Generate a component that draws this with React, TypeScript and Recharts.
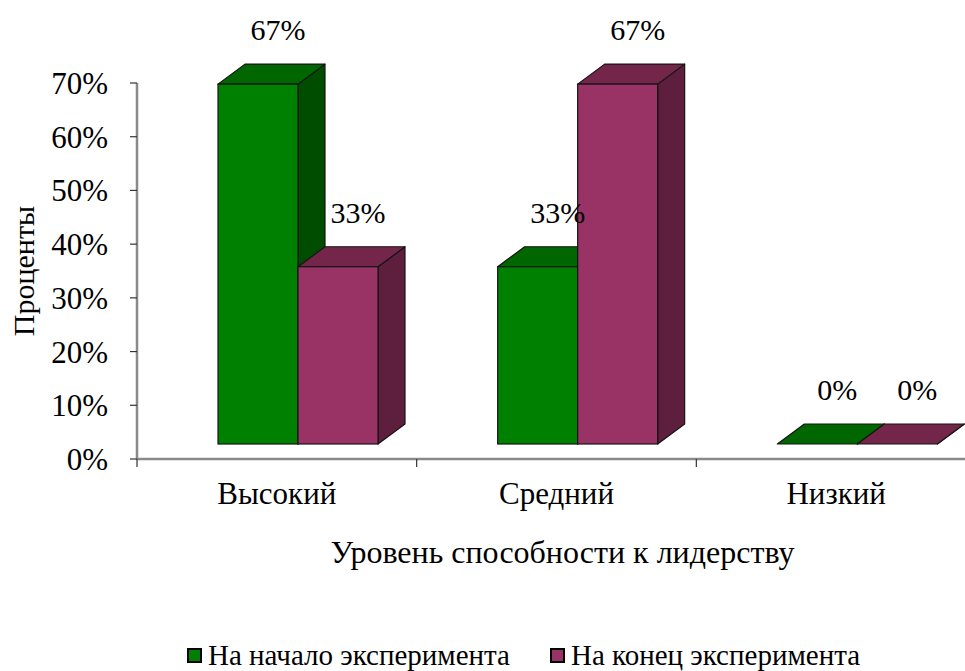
import React from 'react';
import { BarChart, Bar, XAxis, YAxis, Legend, LabelList } from 'recharts';

const categories = ['Высокий', 'Средний', 'Низкий'];
const startValues = [67, 33, 0];
const endValues = [33, 67, 0];
const yTicks = [0, 10, 20, 30, 40, 50, 60, 70];
const seriesNames = ['На начало эксперимента', 'На конец эксперимента'];
const yTitle = 'Проценты';
const xTitle = 'Уровень способности к лидерству';

const data = categories.map((c, i) => ({ name: c, start: startValues[i], end: endValues[i] }));

const FONT = '"Liberation Serif", "Times New Roman", serif';
const CHART_W = 1000;
const CHART_H = 671;
const MARGIN = { top: 83, right: 24, bottom: 0, left: 0 };
const Y_W = 137;
const X_H = 212;
const PLOT_W = CHART_W - MARGIN.right - MARGIN.left - Y_W;
const BW = PLOT_W / categories.length;

const SHIFT_X = 21;
const LIFT = 15;
const DEP_X = 27;
const DEP_Y = 20;
const AXIS_COLOR = '#8a8a8a';

const GREEN = { front: '#008000', top: '#006600', side: '#004d00' };
const MAG = { front: '#993366', top: '#73264a', side: '#5e1f3e' };

const makeShape = (col: { front: string; top: string; side: string }) => (props: any) => {
  const { x, y, width, height } = props;
  const fx = x + SHIFT_X;
  const fy = y - LIFT;
  const fb = y + height - LIFT;
  const w = width;
  const stroke = '#151515';
  return (
    <g>
      <polygon
        points={`${fx + w},${fy} ${fx + w + DEP_X},${fy - DEP_Y} ${fx + w + DEP_X},${fb - DEP_Y} ${fx + w},${fb}`}
        fill={col.side}
        stroke={stroke}
        strokeWidth={1.2}
        strokeLinejoin="round"
      />
      <polygon
        points={`${fx},${fy} ${fx + DEP_X},${fy - DEP_Y} ${fx + w + DEP_X},${fy - DEP_Y} ${fx + w},${fy}`}
        fill={col.top}
        stroke={stroke}
        strokeWidth={1.2}
        strokeLinejoin="round"
      />
      {height > 0 && (
        <rect x={fx} y={fy} width={w} height={fb - fy} fill={col.front} stroke={stroke} strokeWidth={1.2} />
      )}
    </g>
  );
};

const renderLabel = (props: any) => {
  const { x, y, width, value } = props;
  const cx = x + SHIFT_X + width / 2 + 20;
  const by = y - LIFT - 44;
  return (
    <text x={cx} y={by} textAnchor="middle" fontFamily={FONT} fontSize={30} fill="#000">
      {value}%
    </text>
  );
};

const XTick = (props: any) => {
  const { x, y, payload, index } = props;
  const axisY = y - 8;
  const isLast = index === categories.length - 1;
  return (
    <g>
      <line x1={x - BW / 2} y1={axisY} x2={x - BW / 2} y2={axisY + 8} stroke="#333" strokeWidth={1.2} />
      {isLast && <line x1={x + BW / 2} y1={axisY} x2={x + BW / 2} y2={axisY + 8} stroke="#333" strokeWidth={1.2} />}
      <text x={x} y={axisY + 45} textAnchor="middle" fontFamily={FONT} fontSize={31} fill="#000">
        {payload.value}
      </text>
    </g>
  );
};

const YLabel = (props: any) => {
  const vb = props.viewBox || { x: 0, y: MARGIN.top, width: Y_W, height: 376 };
  const cx = vb.x + 23;
  const cy = vb.y + vb.height / 2;
  return (
    <text
      x={cx}
      y={cy}
      transform={`rotate(-90 ${cx} ${cy})`}
      textAnchor="middle"
      dominantBaseline="central"
      fontFamily={FONT}
      fontSize={30}
      fill="#000"
    >
      {yTitle}
    </text>
  );
};

const XLabel = (props: any) => {
  const vb = props.viewBox || { x: Y_W, y: 459, width: PLOT_W, height: X_H };
  return (
    <text x={vb.x + vb.width / 2 + 6} y={vb.y + 104} textAnchor="middle" fontFamily={FONT} fontSize={32} fill="#000">
      {xTitle}
    </text>
  );
};

const LegendContent = () => {
  const colors = [GREEN.front, MAG.front];
  return (
    <div style={{ display: 'flex', alignItems: 'center', paddingLeft: 187, fontFamily: FONT, fontSize: 29, color: '#000', lineHeight: '32px' }}>
      {seriesNames.map((n, i) => (
        <div key={n} style={{ display: 'flex', alignItems: 'center', marginRight: 40 }}>
          <span
            style={{
              display: 'inline-block',
              width: 11,
              height: 11,
              border: '2px solid #000',
              background: colors[i],
              marginRight: 6,
            }}
          />
          <span>{n}</span>
        </div>
      ))}
    </div>
  );
};

export default function App() {
  return (
    <div style={{ position: 'absolute', left: 0, top: 0, width: 965, height: 671, overflow: 'hidden', background: '#fff' }}>
      <BarChart width={CHART_W} height={CHART_H} data={data} margin={MARGIN} barGap={0} barSize={80}>
        <XAxis
          dataKey="name"
          height={X_H}
          axisLine={{ stroke: AXIS_COLOR, strokeWidth: 2.5 }}
          tickLine={false}
          tick={<XTick />}
          interval={0}
          label={{ content: <XLabel /> } as any}
        />
        <YAxis
          width={Y_W}
          domain={[0, 70]}
          ticks={yTicks}
          interval={0}
          tickFormatter={(v: number) => `${v}%`}
          tick={{ fontFamily: FONT, fontSize: 31, fill: '#000' }}
          tickSize={7}
          tickMargin={22}
          tickLine={{ stroke: '#333', strokeWidth: 1.2 }}
          axisLine={{ stroke: AXIS_COLOR, strokeWidth: 2.5 }}
          label={{ content: <YLabel /> } as any}
        />
        <Legend
          verticalAlign="middle"
          align="center"
          wrapperStyle={{ left: 0, top: 639, width: 965 }}
          content={<LegendContent />}
        />
        <Bar dataKey="start" name={seriesNames[0]} fill={GREEN.front} isAnimationActive={false} shape={makeShape(GREEN)}>
          <LabelList dataKey="start" content={renderLabel} />
        </Bar>
        <Bar dataKey="end" name={seriesNames[1]} fill={MAG.front} isAnimationActive={false} shape={makeShape(MAG)}>
          <LabelList dataKey="end" content={renderLabel} />
        </Bar>
      </BarChart>
    </div>
  );
}
